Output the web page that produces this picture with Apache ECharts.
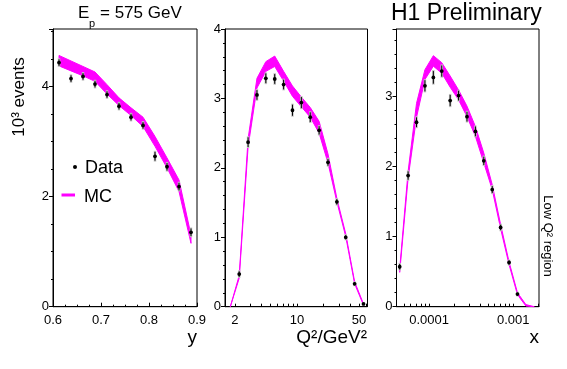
<!DOCTYPE html>
<html><head><meta charset="utf-8">
<script src="https://cdn.jsdelivr.net/npm/echarts@6/dist/echarts.min.js"></script>
<style>html,body{margin:0;padding:0;background:#fff}#c{width:567px;height:369px}</style>
</head><body><div id="c"></div>
<script>
// ---- Panel 1: y ----
const yBins  = [0.6125, 0.6375, 0.6625, 0.6875, 0.7125, 0.7375, 0.7625, 0.7875, 0.8125, 0.8375, 0.8625, 0.8875];
const yData  = [4.43, 4.14, 4.18, 4.04, 3.85, 3.64, 3.44, 3.29, 2.73, 2.54, 2.18, 1.35];
const yErr   = [0.06, 0.06, 0.06, 0.06, 0.06, 0.06, 0.06, 0.06, 0.08, 0.07, 0.07, 0.07];
const yMcLo  = [4.37, 4.28, 4.19, 4.09, 3.86, 3.65, 3.47, 3.27, 2.91, 2.52, 2.09, 1.15];
const yMcHi  = [4.56, 4.46, 4.36, 4.26, 4.03, 3.79, 3.61, 3.44, 3.09, 2.70, 2.30, 1.30];
const yTickLabels = [0.6, 0.7, 0.8, 0.9];

// ---- Panel 2: Q^2 (log10 of Q^2/GeV^2) ----
const q2Log   = [0.35, 0.45, 0.55, 0.65, 0.75, 0.85, 0.95, 1.05, 1.15, 1.25, 1.35, 1.45, 1.55, 1.65, 1.75];
const q2Data  = [0.47, 2.37, 3.05, 3.29, 3.28, 3.20, 2.83, 2.94, 2.73, 2.54, 2.08, 1.51, 1.00, 0.33, 0.04];
const q2Err   = [0.04, 0.07, 0.07, 0.07, 0.07, 0.07, 0.08, 0.08, 0.07, 0.06, 0.05, 0.04, 0.03, 0.02, 0.01];
const q2McLog = [0.25, 0.35, 0.45, 0.55, 0.65, 0.75, 0.85, 0.95, 1.05, 1.15, 1.25, 1.35, 1.45, 1.55, 1.65, 1.75];
const q2McLo  = [0.00, 0.41, 2.30, 3.15, 3.39, 3.46, 3.25, 3.03, 2.88, 2.73, 2.50, 2.07, 1.51, 1.01, 0.33, 0.02];
const q2McHi  = [0.00, 0.45, 2.42, 3.29, 3.53, 3.61, 3.39, 3.18, 3.02, 2.87, 2.67, 2.20, 1.56, 1.05, 0.36, 0.04];
const q2TickLabels = [2, 10, 50];
const q2MinorTicks = [2, 3, 4, 5, 6, 7, 8, 9, 10, 20, 30, 40, 50, 60];

// ---- Panel 3: x (log10 of Bjorken x) ----
const xLog    = [-4.35, -4.25, -4.15, -4.05, -3.95, -3.85, -3.75, -3.65, -3.55, -3.45, -3.35, -3.25, -3.15, -3.05, -2.95];
const xData   = [0.57, 1.87, 2.63, 3.15, 3.27, 3.36, 2.94, 3.01, 2.71, 2.50, 2.08, 1.67, 1.13, 0.63, 0.18];
const xErr    = [0.04, 0.06, 0.07, 0.08, 0.09, 0.08, 0.08, 0.07, 0.07, 0.07, 0.06, 0.05, 0.04, 0.03, 0.02];
const xMcLog  = [-4.35, -4.25, -4.15, -4.05, -3.95, -3.85, -3.75, -3.65, -3.55, -3.45, -3.35, -3.25, -3.15, -3.05, -2.95, -2.85, -2.75];
const xMcLo   = [0.49, 1.83, 2.70, 3.24, 3.43, 3.33, 3.13, 2.95, 2.71, 2.43, 2.05, 1.67, 1.11, 0.60, 0.17, 0.01, 0.00];
const xMcHi   = [0.54, 1.93, 2.90, 3.38, 3.58, 3.48, 3.29, 3.09, 2.86, 2.57, 2.19, 1.74, 1.17, 0.64, 0.20, 0.03, 0.00];
const xTickLabels = ['0.0001', '0.001'];
const xMinorTicks = [5e-5, 6e-5, 7e-5, 8e-5, 9e-5, 1e-4, 2e-4, 3e-4, 4e-4, 5e-4, 6e-4, 7e-4, 8e-4, 9e-4, 1e-3, 2e-3];

const FONT = 'Liberation Sans, Arial, Helvetica, sans-serif';
const MAG = '#ff00ff';

function band(idx, xs, lo, hi) {
  const data = xs.map((x, i) => [x, lo[i], hi[i]]);
  return {
    type: 'custom', xAxisIndex: idx, yAxisIndex: idx, data: data, silent: true, z: 2,
    renderItem: function (params, api) {
      if (params.dataIndex !== 0) return null;
      const top = data.map(d => api.coord([d[0], d[2]]));
      const bot = data.map(d => api.coord([d[0], d[1]])).reverse();
      return { type: 'polygon', shape: { points: top.concat(bot) },
        style: { fill: MAG, stroke: MAG, lineWidth: 1 } };
    }
  };
}
function points(idx, xs, ys, es) {
  const data = xs.map((x, i) => [x, ys[i], es[i]]);
  return {
    type: 'custom', xAxisIndex: idx, yAxisIndex: idx, data: data, silent: true, z: 5,
    renderItem: function (params, api) {
      const x = api.value(0), y = api.value(1), e = api.value(2);
      const p = api.coord([x, y]);
      const a = api.coord([x, y + e]);
      const b = api.coord([x, y - e]);
      return { type: 'group', children: [
        { type: 'line', shape: { x1: p[0], y1: a[1] - 1, x2: p[0], y2: b[1] + 1 }, style: { stroke: '#c4c4c4', lineWidth: 2.5 } },
        { type: 'line', shape: { x1: p[0], y1: a[1], x2: p[0], y2: b[1] }, style: { stroke: '#000', lineWidth: 1 } },
        { type: 'circle', shape: { cx: p[0], cy: p[1], r: 1.9 }, style: { fill: '#000' } }
      ]};
    }
  };
}
const axisLine = { show: true, lineStyle: { color: '#000', width: 1 } };
const lbl = { color: '#000', fontSize: 13, fontFamily: FONT };

function yAxis(idx, max, interval, minorSplit) {
  return {
    gridIndex: idx, type: 'value', min: 0, max: max, interval: interval,
    axisLine: axisLine, splitLine: { show: false },
    axisTick: { show: true, inside: false, length: 4, lineStyle: { color: '#000' } },
    minorTick: { show: true, splitNumber: minorSplit, length: 2, lineStyle: { color: '#000' } },
    axisLabel: Object.assign({ margin: 4, showMaxLabel: max % interval === 0 }, lbl)
  };
}

const option = {
  animation: false,
  backgroundColor: '#fff',
  grid: [
    { left: 53, top: 29, width: 144, height: 277.7, show: true, borderColor: '#000', borderWidth: 1, backgroundColor: 'transparent' },
    { left: 225, top: 29, width: 142.5, height: 277.7, show: true, borderColor: '#000', borderWidth: 1, backgroundColor: 'transparent' },
    { left: 396.5, top: 29, width: 142.5, height: 277.7, show: true, borderColor: '#000', borderWidth: 1, backgroundColor: 'transparent' }
  ],
  xAxis: [
    { gridIndex: 0, type: 'value', min: 0.6, max: 0.9, interval: 0.1,
      axisLine: axisLine, splitLine: { show: false },
      axisTick: { show: true, inside: true, length: 4, lineStyle: { color: '#000' } },
      minorTick: { show: true, splitNumber: 4, length: 2, lineStyle: { color: '#000' } },
      axisLabel: Object.assign({ margin: 7, customValues: yTickLabels, formatter: v => v.toFixed(1) }, lbl) },
    { gridIndex: 1, type: 'value', min: 0.19, max: 1.795,
      axisLine: axisLine, splitLine: { show: false },
      axisTick: { show: true, inside: true, length: 3, customValues: q2MinorTicks.map(v => Math.log10(v)), lineStyle: { color: '#000' } },
      axisLabel: Object.assign({ margin: 7, customValues: q2TickLabels.map(v => Math.log10(v)),
        formatter: v => String(Math.round(Math.pow(10, v))) }, lbl) },
    { gridIndex: 2, type: 'value', min: -4.388, max: -2.694,
      axisLine: axisLine, splitLine: { show: false },
      axisTick: { show: true, inside: true, length: 3, customValues: xMinorTicks.map(v => Math.log10(v)), lineStyle: { color: '#000' } },
      axisLabel: Object.assign({ margin: 7, customValues: [-4, -3],
        formatter: v => (Math.round(v) === -4 ? xTickLabels[0] : xTickLabels[1]) }, lbl) }
  ],
  yAxis: [ yAxis(0, 5.04, 2, 4), yAxis(1, 4, 1, 5), yAxis(2, 3.96, 1, 5) ],
  series: [
    band(0, yBins, yMcLo, yMcHi), points(0, yBins, yData, yErr),
    band(1, q2McLog, q2McLo, q2McHi), points(1, q2Log, q2Data, q2Err),
    band(2, xMcLog, xMcLo, xMcHi), points(2, xLog, xData, xErr)
  ],
  graphic: [
    { type: 'text', left: 78, top: 5, style: { text: 'E', fontSize: 17, fontFamily: FONT, fill: '#000' } },
    { type: 'text', left: 89, top: 18, style: { text: 'p', fontSize: 11, fontFamily: FONT, fill: '#000' } },
    { type: 'text', left: 100, top: 5, style: { text: '= 575 GeV', fontSize: 17, fontFamily: FONT, fill: '#000' } },
    { type: 'text', left: 391, top: 2, style: { text: 'H1 Preliminary', fontSize: 23, fontFamily: FONT, fill: '#000' } },
    { type: 'text', x: 19, y: 97, rotation: Math.PI / 2,
      style: { text: '10³ events', fontSize: 17, fontFamily: FONT, fill: '#000', align: 'center', verticalAlign: 'middle' } },
    { type: 'text', x: 548, y: 236, rotation: -Math.PI / 2,
      style: { text: 'Low Q² region', fontSize: 13, fontFamily: FONT, fill: '#000', align: 'center', verticalAlign: 'middle' } },
    { type: 'text', x: 197, y: 338, style: { text: 'y', fontSize: 19, fontFamily: FONT, fill: '#000', align: 'right', verticalAlign: 'middle' } },
    { type: 'text', x: 367, y: 338, style: { text: 'Q²/GeV²', fontSize: 19, fontFamily: FONT, fill: '#000', align: 'right', verticalAlign: 'middle' } },
    { type: 'text', x: 539, y: 338, style: { text: 'x', fontSize: 19, fontFamily: FONT, fill: '#000', align: 'right', verticalAlign: 'middle' } },
    { type: 'circle', shape: { cx: 75, cy: 167, r: 2 }, style: { fill: '#000' } },
    { type: 'text', x: 85, y: 168, style: { text: 'Data', fontSize: 18, fontFamily: FONT, fill: '#000', verticalAlign: 'middle' } },
    { type: 'line', shape: { x1: 61.5, y1: 195, x2: 75, y2: 195 }, style: { stroke: MAG, lineWidth: 3 } },
    { type: 'text', x: 84, y: 197, style: { text: 'MC', fontSize: 18, fontFamily: FONT, fill: '#000', verticalAlign: 'middle' } }
  ]
};
const chart = echarts.init(document.getElementById('c'), null, { renderer: 'canvas' });
chart.setOption(option);
</script>
</body></html>
